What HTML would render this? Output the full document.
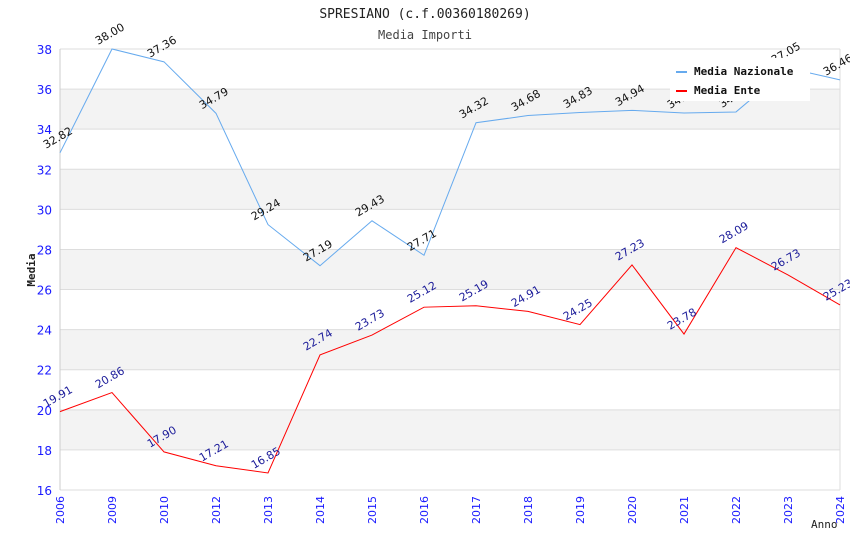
<!DOCTYPE html>
<html><head><meta charset="utf-8"><style>
body{margin:0;background:#fff}
svg{display:block}
</style></head><body>
<svg id="chart" width="850" height="550" xmlns="http://www.w3.org/2000/svg">
<text x="425" y="18" text-anchor="middle" font-family="DejaVu Sans Mono, Liberation Mono, monospace" font-size="13" fill="#222">SPRESIANO (c.f.00360180269)</text>
<text x="425" y="39" text-anchor="middle" font-family="DejaVu Sans Mono, Liberation Mono, monospace" font-size="12" fill="#444">Media Importi</text>
<g id="grid"></g>
<g id="series"></g>
<g id="axes"></g>
<text transform="translate(35,270) rotate(-90)" text-anchor="middle" font-family="DejaVu Sans Mono, monospace" font-size="11" font-weight="bold" fill="#222">Media</text>
<text x="811" y="528" font-family="DejaVu Sans Mono, monospace" font-size="11" fill="#222">Anno</text>
<g>
<rect x="670" y="58" width="140" height="43" fill="#fff"/>
<rect x="676" y="71" width="11" height="2" fill="#66aaee"/>
<text x="694" y="75" font-family="DejaVu Sans Mono, monospace" font-size="11" font-weight="bold" fill="#111">Media Nazionale</text>
<rect x="676" y="90" width="11" height="2" fill="#ff0000"/>
<text x="694" y="94" font-family="DejaVu Sans Mono, monospace" font-size="11" font-weight="bold" fill="#111">Media Ente</text>
</g>
</svg>
<script>
const categories=["2006","2009","2010","2012","2013","2014","2015","2016","2017","2018","2019","2020","2021","2022","2023","2024"];
const nazionale=[32.82,38.00,37.36,34.79,29.24,27.19,29.43,27.71,34.32,34.68,34.83,34.94,34.81,34.86,37.05,36.46];
const ente=[19.91,20.86,17.90,17.21,16.85,22.74,23.73,25.12,25.19,24.91,24.25,27.23,23.78,28.09,26.73,25.23];
const yTicks=[16,18,20,22,24,26,28,30,32,34,36,38];
const NS="http://www.w3.org/2000/svg";
const L=60,R=840,T=49,B=490,yMin=16,yMax=38;
const x=i=>L+i*(R-L)/(categories.length-1);
const y=v=>B-(v-yMin)*(B-T)/(yMax-yMin);
function mk(tag,attrs,parent){const e=document.createElementNS(NS,tag);for(const k in attrs)e.setAttribute(k,attrs[k]);parent.appendChild(e);return e;}
const grid=document.getElementById('grid'),axes=document.getElementById('axes'),ser=document.getElementById('series');
for(let i=0;i<yTicks.length-1;i++){
  if(yTicks[i]%4===2){const r=mk('rect',{x:L,y:y(yTicks[i+1]),width:R-L,height:y(yTicks[i])-y(yTicks[i+1]),fill:'#f3f3f3'},grid);
  
  }
}
yTicks.forEach(t=>{
  const l=mk('line',{x1:L,x2:R,y1:y(t),y2:y(t),stroke:'#ddd','stroke-width':1},grid);
  
  
  const tx=mk('text',{x:L-8,y:y(t)+5,'text-anchor':'end','font-family':'DejaVu Sans, sans-serif','font-size':12,fill:'#1a1aff'},axes);
  tx.textContent=t;
  
  
});
mk('line',{x1:L,x2:L,y1:T,y2:B,stroke:'#ccc'},grid);
mk('line',{x1:R,x2:R,y1:T,y2:B,stroke:'#ddd'},grid);
categories.forEach((c,i)=>{
  const tx=mk('text',{transform:`translate(${x(i)+4},${B+6}) rotate(-90)`,'text-anchor':'end','font-family':'DejaVu Sans, sans-serif','font-size':11,fill:'#1a1aff'},axes);
  tx.textContent=c;
  
  
});
function draw(vals,color,lab,name){
  const p=mk('polyline',{points:vals.map((v,i)=>x(i)+','+y(v)).join(' '),fill:'none',stroke:color,'stroke-width':1},ser);
  
  
  vals.forEach((v,i)=>{
    const t=mk('text',{transform:`translate(${x(i)-14},${y(v)-4}) rotate(-30)`,'font-family':'DejaVu Sans, sans-serif','font-size':11,fill:lab},ser);
    t.textContent=v.toFixed(2);
    
    
  });
}
draw(nazionale,'#66aaee','#111','nazionale');
draw(ente,'#ff0000','#1a1a99','ente');
</script>
</body></html>
